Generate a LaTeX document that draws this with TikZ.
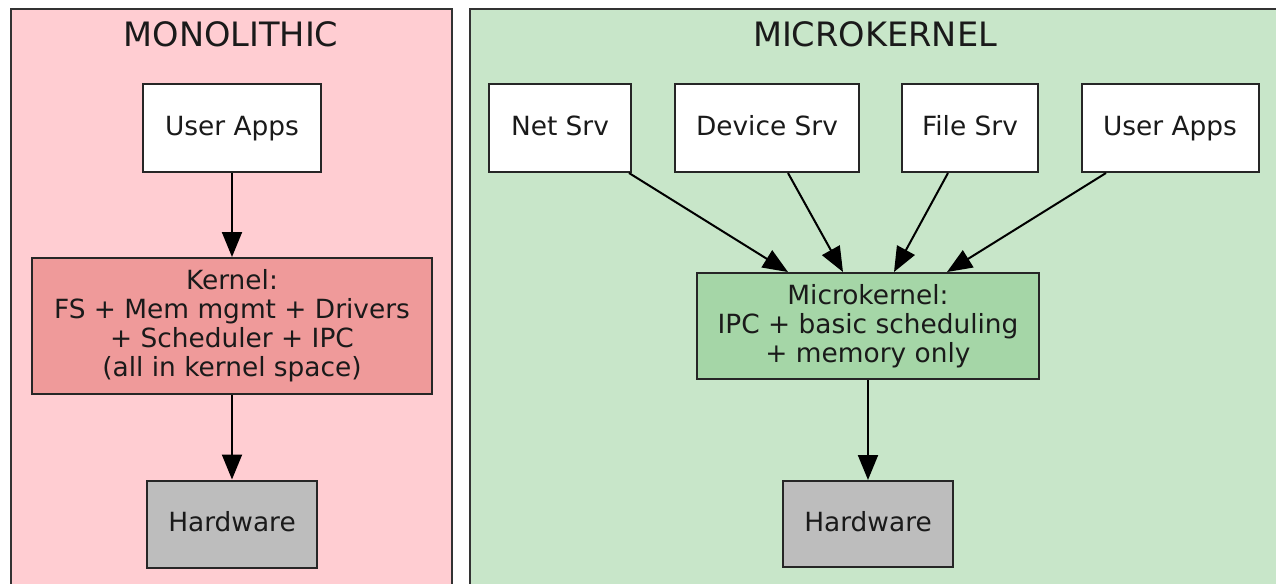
\documentclass[tikz,border=0pt]{standalone}
\usepackage{fontspec}
\setmainfont{DejaVu Sans}
\usetikzlibrary{arrows.meta,calc}
\definecolor{monofill}{HTML}{FFCDD2}
\definecolor{kernfill}{HTML}{EF9A9A}
\definecolor{microfill}{HTML}{C8E6C9}
\definecolor{mkfill}{HTML}{A5D6A7}
\definecolor{hwfill}{HTML}{BDBDBD}
\definecolor{edgeline}{HTML}{333333}
\definecolor{ink}{HTML}{1A1A1A}
\begin{document}
\begin{tikzpicture}[x=0.5pt,y=-0.5pt,
  cluster/.style={draw=edgeline,line width=1pt},
  title/.style={font=\fontsize{16.8}{20}\selectfont,text=ink,anchor=center},
  box/.style={draw=black!85,line width=1pt,fill=white,align=center,text=ink,
    inner sep=0pt,font=\fontsize{13.2}{14.5}\selectfont},
  oneline/.style={text height=10pt,text depth=2.8pt},
  arr/.style={line width=1pt,-{Triangle[length=12.5pt,width=10pt]}}]
\useasboundingbox (0,0) rectangle (1276,584);
\fill[white] (0,0) rectangle (1276,584);
% the two panels run past the lower and right edges
\begin{scope}
  \clip (0,0) rectangle (1276,584);
  \draw[cluster,fill=monofill] (11,9) rectangle (452,620);
  \draw[cluster,fill=microfill] (470,9) rectangle (1320,620);
\end{scope}
\node[title] (tmono) at (231,34) {MONOLITHIC};
\node[title] (tmicro) at (875,34) {MICROKERNEL};
% monolithic stack
\node[box,oneline,minimum width=89pt,minimum height=44pt] (ua1) at (232,128) {User Apps};
\node[box,fill=kernfill,minimum width=200pt,minimum height=68pt] (kern) at (232,326)
  {Kernel:\\FS + Mem mgmt + Drivers\\+ Scheduler + IPC\\(all in kernel space)};
\node[box,oneline,fill=hwfill,minimum width=85pt,minimum height=43.5pt] (hw1) at (232,524) {Hardware};
\draw[arr] (ua1) -- (kern);
\draw[arr] (kern) -- (hw1);
% microkernel stack
\node[box,oneline,minimum width=71pt,minimum height=44pt] (net) at (560,128) {Net Srv};
\node[box,oneline,minimum width=92pt,minimum height=44pt] (dev) at (767,128) {Device Srv};
\node[box,oneline,minimum width=68pt,minimum height=44pt] (file) at (970,128) {File Srv};
\node[box,oneline,minimum width=88.5pt,minimum height=44pt] (ua2) at (1170,128) {User Apps};
\node[box,fill=mkfill,minimum width=171pt,minimum height=53pt] (mk) at (868,326)
  {Microkernel:\\IPC + basic scheduling\\+ memory only};
\node[box,oneline,fill=hwfill,minimum width=85pt,minimum height=43pt] (hw2) at (868,524) {Hardware};
\draw[arr] ($(net.south)+(69,0)$) -- ($(mk.north)+(-80,0)$);
\draw[arr] ($(dev.south)+(21,0)$) -- ($(mk.north)+(-25,0)$);
\draw[arr] ($(file.south)+(-22,0)$) -- ($(mk.north)+(26,0)$);
\draw[arr] ($(ua2.south)+(-64,0)$) -- ($(mk.north)+(79,0)$);
\draw[arr] (mk) -- (hw2);
\end{tikzpicture}
\end{document}
